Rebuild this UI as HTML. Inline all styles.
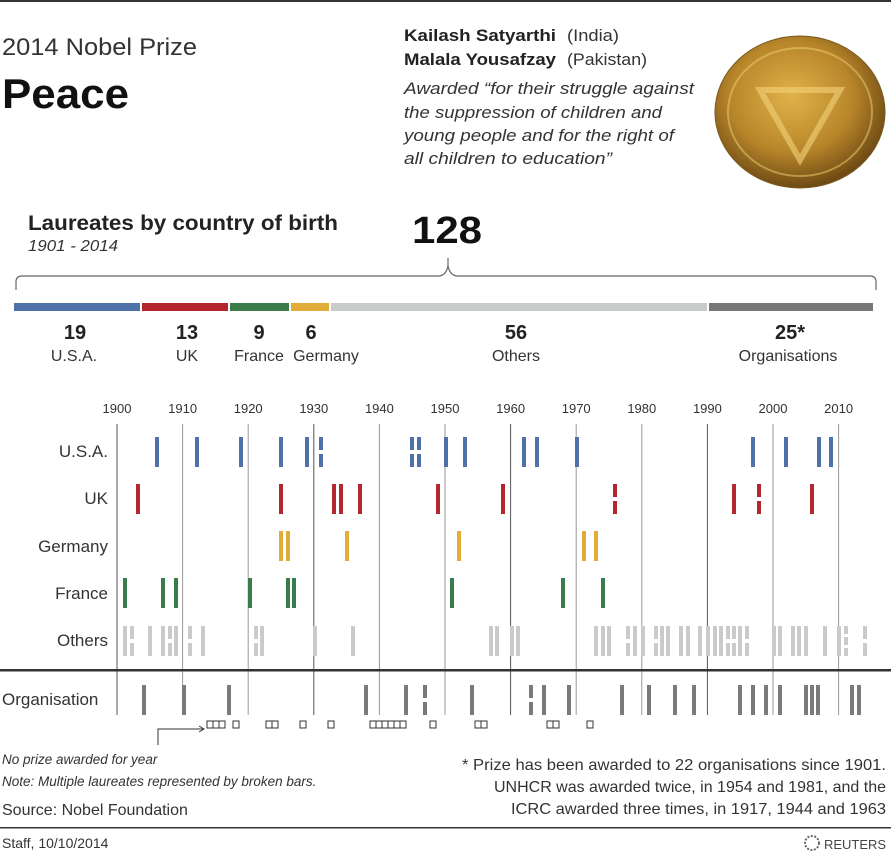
<!DOCTYPE html>
<html><head><meta charset="utf-8"><style>
html,body{margin:0;padding:0;background:#fff}
svg{display:block;font-family:"Liberation Sans",sans-serif}
</style></head><body>
<svg id="s" width="891" height="852" viewBox="0 0 891 852" xmlns="http://www.w3.org/2000/svg">
<rect x="0" y="0" width="891" height="2" fill="#333"/>
<text x="2" y="55" font-size="24" fill="#333" textLength="195" lengthAdjust="spacingAndGlyphs">2014 Nobel Prize</text>
<text x="2" y="108" font-size="42" font-weight="bold" fill="#111" textLength="127" lengthAdjust="spacingAndGlyphs">Peace</text>
<text x="404" y="41" font-size="17" font-weight="bold" fill="#222" textLength="152" lengthAdjust="spacingAndGlyphs">Kailash Satyarthi</text>
<text x="567" y="41" font-size="17" fill="#333" textLength="52" lengthAdjust="spacingAndGlyphs">(India)</text>
<text x="404" y="65" font-size="17" font-weight="bold" fill="#222" textLength="152" lengthAdjust="spacingAndGlyphs">Malala Yousafzay</text>
<text x="567" y="65" font-size="17" fill="#333" textLength="80" lengthAdjust="spacingAndGlyphs">(Pakistan)</text>
<g font-size="17" font-style="italic" fill="#333">
<text x="404" y="94" textLength="290" lengthAdjust="spacingAndGlyphs">Awarded “for their struggle against</text>
<text x="404" y="118" textLength="258" lengthAdjust="spacingAndGlyphs">the suppression of children and</text>
<text x="404" y="141" textLength="270" lengthAdjust="spacingAndGlyphs">young people and for the right of</text>
<text x="404" y="164" textLength="208" lengthAdjust="spacingAndGlyphs">all children to education”</text>
</g>
<defs><radialGradient id="g" cx="45%" cy="40%" r="60%"><stop offset="0" stop-color="#e0b24a"/><stop offset="0.6" stop-color="#b8862a"/><stop offset="1" stop-color="#6e4a14"/></radialGradient></defs>
<ellipse cx="800" cy="112" rx="85" ry="76" fill="url(#g)" stroke="#7a5a20" stroke-width="1"/>
<ellipse cx="800" cy="112" rx="72" ry="64" fill="none" stroke="#f0d070" stroke-width="2" opacity="0.5"/>
<path d="M760 90 L840 90 L800 160 Z" fill="none" stroke="#f4d27a" stroke-width="6" opacity="0.6"/>
<text x="28" y="230" font-size="21" font-weight="bold" fill="#222" textLength="310" lengthAdjust="spacingAndGlyphs">Laureates by country of birth</text>
<text x="28" y="251" font-size="16" font-style="italic" fill="#333" textLength="90" lengthAdjust="spacingAndGlyphs">1901 - 2014</text>
<text x="412" y="243" font-size="38" font-weight="bold" fill="#111" textLength="70" lengthAdjust="spacingAndGlyphs">128</text>
<path d="M16 290 L16 282 Q16 276 22 276 L438 276 Q446 276 448 266 Q450 276 458 276 L870 276 Q876 276 876 282 L876 290 M448 266 L448 258" fill="none" stroke="#666" stroke-width="1.2"/>
<rect x="14" y="303" width="126" height="8" fill="#4e72a8"/>
<rect x="142" y="303" width="86" height="8" fill="#b3272e"/>
<rect x="230" y="303" width="59" height="8" fill="#3a7a4b"/>
<rect x="291" y="303" width="38" height="8" fill="#e2ac3b"/>
<rect x="331" y="303" width="376" height="8" fill="#c8cbc9"/>
<rect x="709" y="303" width="164" height="8" fill="#777"/>
<g font-size="20" font-weight="bold" fill="#222" text-anchor="middle">
<text x="75" y="339">19</text><text x="187" y="339">13</text><text x="259" y="339">9</text><text x="311" y="339">6</text><text x="516" y="339">56</text><text x="790" y="339">25*</text>
</g>
<g font-size="16" fill="#333" text-anchor="middle">
<text x="74" y="361">U.S.A.</text><text x="187" y="361">UK</text><text x="259" y="361">France</text><text x="326" y="361">Germany</text><text x="516" y="361">Others</text><text x="788" y="361">Organisations</text>
</g>
<g id="grid"></g>
<g font-size="17" fill="#333" text-anchor="end">
<text x="108" y="457">U.S.A.</text><text x="108" y="504">UK</text><text x="108" y="552">Germany</text><text x="108" y="599">France</text><text x="108" y="646">Others</text>
</g>
<text x="2" y="705" font-size="17" fill="#333">Organisation</text>
<rect x="0" y="669" width="891" height="2.5" fill="#333"/>
<g id="bars"></g>
<path d="M158 745 L158 729 L203 729" fill="none" stroke="#333" stroke-width="1"/>
<path d="M199 726 L204 729 L199 732" fill="none" stroke="#333" stroke-width="1"/>
<g font-size="13.5" font-style="italic" fill="#333">
<text x="2" y="764">No prize awarded for year</text>
<text x="2" y="786">Note: Multiple laureates represented by broken bars.</text>
</g>
<text x="2" y="815" font-size="16" fill="#333">Source: Nobel Foundation</text>
<g font-size="16" fill="#333" text-anchor="end">
<text x="886" y="770" textLength="424" lengthAdjust="spacingAndGlyphs">* Prize has been awarded to 22 organisations since 1901.</text>
<text x="886" y="792" textLength="392" lengthAdjust="spacingAndGlyphs">UNHCR was awarded twice, in 1954 and 1981, and the</text>
<text x="886" y="814" textLength="375" lengthAdjust="spacingAndGlyphs">ICRC awarded three times, in 1917, 1944 and 1963</text>
</g>
<rect x="0" y="827" width="891" height="1.5" fill="#333"/>
<text x="2" y="848" font-size="14" fill="#333">Staff, 10/10/2014</text>
<circle cx="812" cy="843" r="7" fill="none" stroke="#666" stroke-width="2" stroke-dasharray="2 1.5"/>
<text x="824" y="849" font-size="13" fill="#444" textLength="62" lengthAdjust="spacingAndGlyphs">REUTERS</text>
</svg>
<script>
var NS="http://www.w3.org/2000/svg";
function el(p,t,a){var e=document.createElementNS(NS,t);for(var k in a)e.setAttribute(k,a[k]);p.appendChild(e);return e;}
var grid=document.getElementById("grid"),bars=document.getElementById("bars");
var yrs=[1900,1910,1920,1930,1940,1950,1960,1970,1980,1990,2000,2010];
yrs.forEach(function(y,i){var x=117+(y-1900)*6.56;
 el(grid,"line",{x1:x,y1:424,x2:x,y2:715,stroke:(i%3==0?"#555":"#999"),"stroke-width":1});
 var t=el(grid,"text",{x:x,y:413,"font-size":13,fill:"#333","text-anchor":"middle"});t.textContent=y;});
var rows=[
 [437,"#4e72a8",[157,197,241,281,307,"321b","412b","419b",446,465,524,537,577,753,786,819,831]],
 [484,"#b3272e",[138,281,334,341,360,438,503,"615b",734,"759b",812]],
 [531,"#e2ac3b",[281,288,347,459,584,596]],
 [578,"#3a7a4b",[125,163,176,250,288,294,452,563,603]],
 [626,"#c8cbc9",[125,"132b",150,163,"170b",176,"190b",203,"256b",262,315,353,491,497,512,518,596,603,609,"628b",635,643,"656b",662,668,681,688,700,708,715,721,"728b","734b",740,"747b",774,780,793,799,806,825,839,"846t","865b"]],
 [685,"#7a7a7a",[144,184,229,366,406,"425b",472,"531b",544,569,622,649,675,694,740,753,766,780,806,812,818,852,859]]
];
rows.forEach(function(r){var y=r[0],c=r[1];r[2].forEach(function(v){
 var s=String(v),x=parseFloat(s),m=s.slice(-1);
 if(m=="b"){el(bars,"rect",{x:x-2,y:y,width:4,height:13,fill:c});el(bars,"rect",{x:x-2,y:y+17,width:4,height:13,fill:c});}
 else if(m=="t"){el(bars,"rect",{x:x-2,y:y,width:4,height:8,fill:c});el(bars,"rect",{x:x-2,y:y+11,width:4,height:8,fill:c});el(bars,"rect",{x:x-2,y:y+22,width:4,height:8,fill:c});}
 else el(bars,"rect",{x:x-2,y:y,width:4,height:30,fill:c});
});});
[207,213,219,233,266,272,300,328,370,376,382,388,394,400,430,475,481,547,553,587].forEach(function(x){
 el(bars,"rect",{x:x,y:721,width:6,height:7,fill:"#fff",stroke:"#333","stroke-width":1});});
</script>
</body></html>
